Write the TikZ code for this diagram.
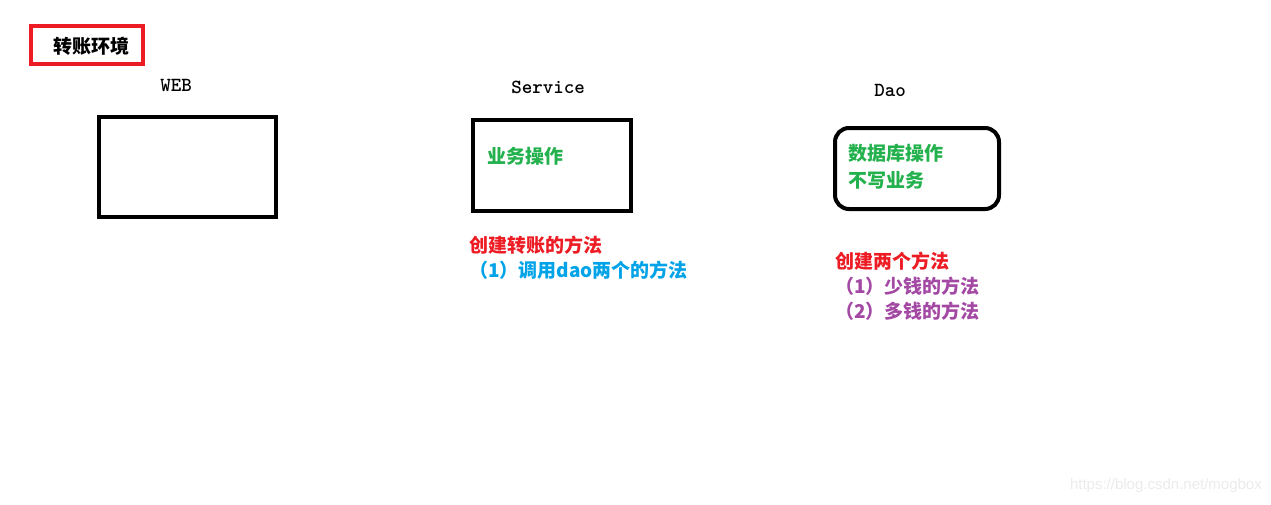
\documentclass[tikz,border=0pt]{standalone}
\usepackage{fontspec}
\usepackage{xcolor}
\usepackage{tikz}
\usetikzlibrary{positioning}
\newfontfamily\cjk{Noto Sans CJK SC}
\newfontfamily\markfnt{Liberation Sans}
\definecolor{paintred}{RGB}{237,28,36}
\definecolor{paintgreen}{RGB}{34,177,76}
\definecolor{paintblue}{RGB}{0,162,232}
\definecolor{paintpurple}{RGB}{163,73,164}

\begin{document}
\begin{tikzpicture}[
    x=1pt, y=-1pt,
    box/.style={rectangle, draw, line width=4pt, inner sep=0pt},
    layer/.style={font=\ttfamily\bfseries\fontsize{20}{22}\selectfont, inner sep=0pt},
    note/.style={anchor=west, inner sep=0pt, font=\cjk\bfseries\fontsize{19}{21}\selectfont}
]
    \useasboundingbox (0,0) rectangle (1271,504);

    % Title
    \node[box, draw=paintred, minimum width=112pt, minimum height=38pt] (title) at (87,45) {};
    \node[inner sep=0pt, font=\cjk\bfseries\fontsize{19}{21}\selectfont] (titletext) at (91,46) {转账环境};

    % WEB
    \node[layer] (weblabel) at (176,85) {WEB};
    \node[box, minimum width=177pt, minimum height=100pt] (web) at (187.5,167) {};

    % Service
    \node[layer] (servicelabel) at (548,87) {Service};
    \node[box, minimum width=158pt, minimum height=91pt] (service) at (552,165.5) {};
    \node[note, text=paintgreen] (servicetext) at (487,156) {业务操作};
    \node[note, text=paintred] (servicenote) at (469,245) {创建转账的方法};
    \node[note, text=paintblue] (servicestep) at (469,270) {（1）调用dao两个的方法};

    % Dao
    \node[layer] (daolabel) at (890,90) {Dao};
    \node[box, rounded corners=14pt, minimum width=164pt, minimum height=81pt] (dao) at (917,168.5) {};
    \node[note, text=paintgreen] (daotext) at (848,153) {数据库操作};
    \node[note, text=paintgreen, below=9pt of daotext.south west, anchor=north west] (daotextb) {不写业务};
    \node[note, text=paintred] (daonote) at (835,261) {创建两个方法};
    \node[note, text=paintpurple] (daostepa) at (835,286) {（1）少钱的方法};
    \node[note, text=paintpurple] (daostepb) at (835,311) {（2）多钱的方法};

    % watermark
    \node[anchor=east, inner sep=0pt, text=black!8, font=\markfnt\fontsize{15}{17}\selectfont] (mark) at (1262,486) {https://blog.csdn.net/mogbox};

\end{tikzpicture}
\end{document}
